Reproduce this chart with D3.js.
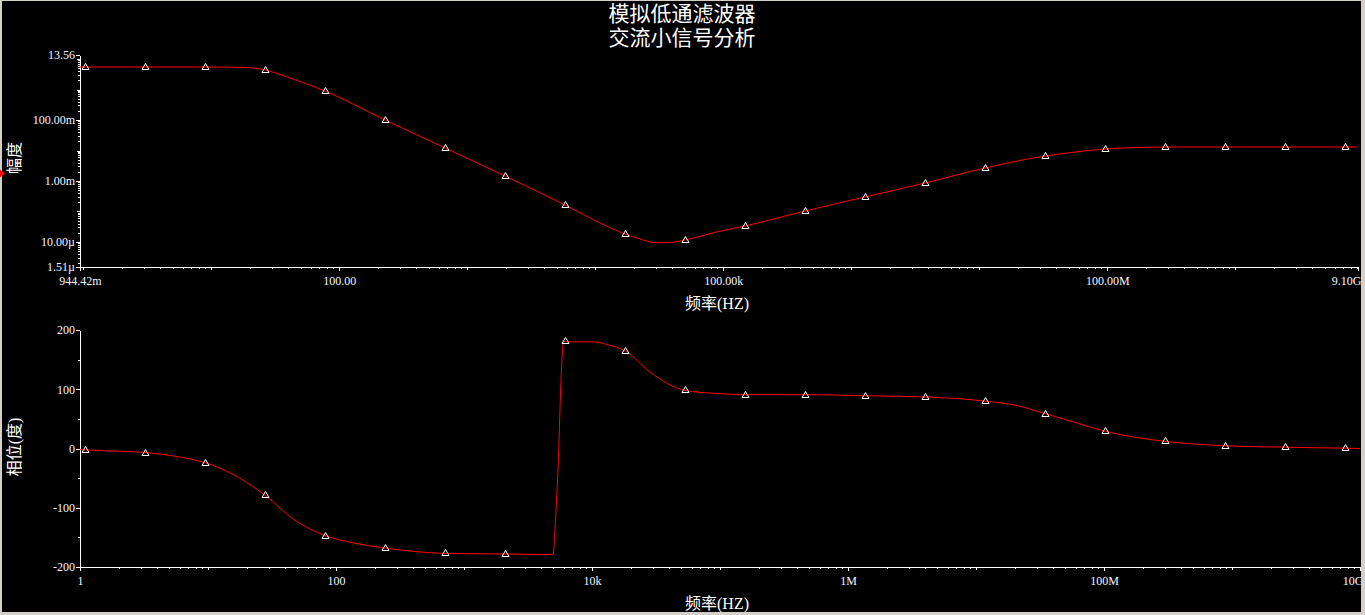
<!DOCTYPE html>
<html>
<head>
<meta charset="utf-8">
<script src="https://cdn.jsdelivr.net/npm/d3@7"></script>
<style>
html,body{margin:0;padding:0;background:#000;}
svg{display:block;}
.tick text{font-family:"Liberation Serif","Times New Roman",serif;font-size:12px;fill:#f2f6ff;}
</style>
</head>
<body>
<svg id="chart" width="1365" height="615"></svg>
<script>
// ---------- data ----------
const titleLines = ["模拟低通滤波器", "交流小信号分析"];
const xTitle = "频率(HZ)";
const magTitle = "幅度";
const phaseTitle = "相位(度)";

// magnitude plot (frequency in Hz, magnitude linear)
const magFreq  = [0.94442, 3.04, 8.96, 18.4, 26.3, 41.3, 77.4, 228, 671, 1970, 5810, 10900, 17100, 22400, 29300, 38400, 50300, 86300, 148000, 436000, 1.28e6, 3.77e6, 1.11e7, 3.27e7, 5.61e7, 9.6e7, 1.65e8, 2.83e8, 9.1e9];
const magValue = [5.48, 5.48, 5.48, 5.3, 4.37, 2.39, 0.895, 0.1, 0.0121, 1.46e-3, 1.63e-4, 4.19e-5, 1.82e-5, 1.25e-5, 9.46e-6, 9.6e-6, 1.16e-5, 2.07e-5, 3.34e-5, 1.04e-4, 2.99e-4, 8.6e-4, 2.67e-3, 6.6e-3, 8.9e-3, 0.0112, 0.0124, 0.0130, 0.0130];
const magMarkerFreq = [1.03, 3.04, 8.96, 26.3, 77.4, 228, 671, 1970, 5810, 17100, 50300, 148000, 436000, 1.28e6, 3.77e6, 1.11e7, 3.27e7, 9.6e7, 2.83e8, 8.33e8, 2.45e9, 7.2e9];
const magTickValues = [13.56, 0.1, 0.001, 1e-5, 1.51e-6];
const magTickLabels = ["13.56", "100.00m", "1.00m", "10.00µ", "1.51µ"];
const magXTickValues = [0.94442, 100, 1e5, 1e8, 9.1e9];
const magXTickLabels = ["944.42m", "100.00", "100.00k", "100.00M", "9.10G"];

// phase plot (frequency in Hz, phase in degrees)
const phaseFreq  = [1, 1.62, 3.22, 5.52, 9.47, 16.3, 27.9, 47.8, 82.0, 141, 241, 711, 2090, 4955, 5232, 5471, 5723, 6011, 6379, 10190, 13340, 18110, 28380, 53300, 91400, 156700, 461000, 1.358e6, 4.0e6, 1.175e7, 2.02e7, 3.46e7, 5.93e7, 1.018e8, 1.746e8, 3.0e8, 8.82e8, 2.59e9, 7.64e9, 1e10];
const phaseValue = [-2, -3.9, -6.8, -13, -24, -45.6, -79, -121, -147, -160, -168, -177, -178, -179, -105, -15, 115, 181, 180, 180, 175, 165, 129, 98, 93, 91, 91, 89, 87, 80, 73, 59, 44, 29, 19, 12, 4.6, 2.2, 0.5, 0];
const phaseMarkerFreq = [1.094, 3.22, 9.47, 27.9, 82.0, 241, 711, 2090, 6150, 18110, 53300, 156700, 461000, 1.358e6, 4.0e6, 1.175e7, 3.46e7, 1.018e8, 3.0e8, 8.82e8, 2.59e9, 7.64e9];
const phaseTickValues = [-200, -100, 0, 100, 200];
const phaseXTickValues = [1, 100, 1e4, 1e6, 1e8, 1e10];
const phaseXTickLabels = ["1", "100", "10k", "1M", "100M", "10G"];

// ---------- drawing ----------
const svg = d3.select("#chart");
svg.append("rect").attr("width",1365).attr("height",615).attr("fill","#000");

const WHITE = "#ffffff";
const titleFont = '"Liberation Sans","Noto Sans CJK SC",sans-serif';
const labelFont = '"Liberation Serif","Noto Sans CJK SC",serif';

// title
svg.selectAll("text.title").data(titleLines).enter().append("text")
  .attr("class","title")
  .attr("x", 682).attr("y", (d,i)=> 13 + i*24)
  .attr("text-anchor","middle").attr("dominant-baseline","central")
  .attr("font-family", titleFont).attr("font-size", 21).attr("fill", WHITE)
  .text(d=>d);

function logMinor(lo, hi, d0, d1) {
  const out = [];
  for (let d = d0; d <= d1; d++) for (let k = 1; k <= 9; k++) {
    const v = k * Math.pow(10, d);
    if (v >= lo && v <= hi) out.push(v);
  }
  return out;
}
const isDecade = v => Math.abs(Math.log10(v) - Math.round(Math.log10(v))) < 1e-9;

function styleAxis(g) {
  g.selectAll("path.domain").attr("stroke", WHITE).attr("shape-rendering","crispEdges");
  g.selectAll(".tick line").attr("stroke", WHITE).attr("shape-rendering","crispEdges");
}

function markerPts(xs, ys, pxs) {
  return pxs.map(px => {
    let i = d3.bisectLeft(xs, px);
    if (i <= 0) return [xs[0], ys[0]];
    if (i >= xs.length) return [xs[xs.length-1], ys[ys.length-1]];
    const t = (px - xs[i-1]) / (xs[i] - xs[i-1]);
    return [px, ys[i-1] + t*(ys[i]-ys[i-1])];
  });
}

function drawPanel(opts) {
  const {x, y, freq, val, markerFreq, yTicks, yLabels, yMinor, yMinorLong, xTicks, xLabels, xMinor, xMinorLong} = opts;
  const [x0] = x.range();
  const yBase = y.range()[0];

  svg.append("g").attr("transform",`translate(${x0},0)`)
    .call(d3.axisLeft(y).tickValues(yMinor).tickSize(2).tickSizeOuter(0).tickFormat(""))
    .call(styleAxis);
  if (yMinorLong) svg.append("g").attr("transform",`translate(${x0},0)`)
    .call(d3.axisLeft(y).tickValues(yMinorLong).tickSize(3).tickSizeOuter(0).tickFormat(""))
    .call(styleAxis);
  svg.append("g").attr("transform",`translate(${x0},0)`)
    .call(d3.axisLeft(y).tickValues(yTicks).tickSize(4).tickPadding(1).tickSizeOuter(0)
      .tickFormat((d,i)=> yLabels ? yLabels[i] : String(d)))
    .call(styleAxis);

  svg.append("g").attr("transform",`translate(0,${yBase})`)
    .call(d3.axisBottom(x).tickValues(xMinor).tickSize(2).tickSizeOuter(0).tickFormat(""))
    .call(styleAxis);
  svg.append("g").attr("transform",`translate(0,${yBase})`)
    .call(d3.axisBottom(x).tickValues(xMinorLong).tickSize(3).tickSizeOuter(0).tickFormat(""))
    .call(styleAxis);
  const gx = svg.append("g").attr("transform",`translate(0,${yBase})`)
    .call(d3.axisBottom(x).tickValues(xTicks).tickSize(4).tickPadding(5).tickSizeOuter(0)
      .tickFormat((d,i)=> xLabels[i]))
    .call(styleAxis);
  gx.selectAll(".tick text").filter((d,i)=> i === xTicks.length-1)
    .attr("text-anchor","end").attr("dx", 3);

  const pts = freq.map((f,i)=> [x(f), y(val[i])]);
  svg.append("path")
    .attr("d", d3.line().curve(d3.curveMonotoneX)(pts))
    .attr("fill","none").attr("stroke","#ff0000").attr("stroke-width",1);

  const mk = markerPts(pts.map(p=>p[0]), pts.map(p=>p[1]), markerFreq.map(f=>x(f)));
  svg.append("g").selectAll("path").data(mk).enter().append("path")
    .attr("d", d => {
      const cx = Math.round(d[0]) + 0.5, cy = Math.round(d[1]) + 0.5;
      return `M${cx},${cy-4}L${cx+3.5},${cy+2}L${cx-3.5},${cy+2}Z`;
    })
    .attr("fill","none").attr("stroke", WHITE).attr("stroke-width",1);
}

// magnitude panel
const xTop = d3.scaleLog().domain([0.94442, 9.1e9]).range([80, 1358]);
const yTop = d3.scaleLog().domain([1.51e-6, 13.56]).range([267, 55]);
const magYMinor = logMinor(1.51e-6, 13.56, -6, 1);
const magXMinor = logMinor(0.94442, 9.1e9, -1, 9);
drawPanel({
  x: xTop, y: yTop, freq: magFreq, val: magValue, markerFreq: magMarkerFreq,
  yTicks: magTickValues, yLabels: magTickLabels,
  yMinor: magYMinor, yMinorLong: magYMinor.filter(isDecade),
  xTicks: magXTickValues, xLabels: magXTickLabels,
  xMinor: magXMinor, xMinorLong: magXMinor.filter(isDecade)
});

// phase panel
const xBot = d3.scaleLog().domain([1, 1e10]).range([80, 1360]);
const yBot = d3.scaleLinear().domain([-200, 200]).range([567, 330]);
const phaseXMinor = logMinor(1, 1e10, 0, 10);
drawPanel({
  x: xBot, y: yBot, freq: phaseFreq, val: phaseValue, markerFreq: phaseMarkerFreq,
  yTicks: phaseTickValues, yLabels: null,
  yMinor: [-150, -50, 50, 150], yMinorLong: null,
  xTicks: phaseXTickValues, xLabels: phaseXTickLabels,
  xMinor: phaseXMinor, xMinorLong: phaseXMinor.filter(isDecade)
});

// axis titles
[[717, 303], [717, 603]].forEach(p => {
  svg.append("text").attr("x", p[0]).attr("y", p[1])
    .attr("text-anchor","middle").attr("dominant-baseline","central")
    .attr("font-family", labelFont).attr("font-size", 16).attr("fill", WHITE).text(xTitle);
});
[[14, 158, magTitle], [14, 447, phaseTitle]].forEach(p => {
  svg.append("text").attr("transform", `translate(${p[0]},${p[1]}) rotate(-90)`)
    .attr("text-anchor","middle").attr("dominant-baseline","central")
    .attr("font-family", labelFont).attr("font-size", 16).attr("fill", WHITE).text(p[2]);
});

// window frame
svg.append("rect").attr("x",0).attr("y",0).attr("width",2).attr("height",615).attr("fill","#d4d0c8");
svg.append("rect").attr("x",1361).attr("y",0).attr("width",4).attr("height",615).attr("fill","#d4d0c8");
svg.append("rect").attr("x",0).attr("y",612).attr("width",1365).attr("height",3).attr("fill","#d4d0c8");
svg.append("rect").attr("x",0).attr("y",0).attr("width",1365).attr("height",1).attr("fill","#d4d0c8");
svg.append("path").attr("d","M0,169.5L5,173.5L0,177.5Z").attr("fill","#ff0000");
</script>
</body>
</html>
